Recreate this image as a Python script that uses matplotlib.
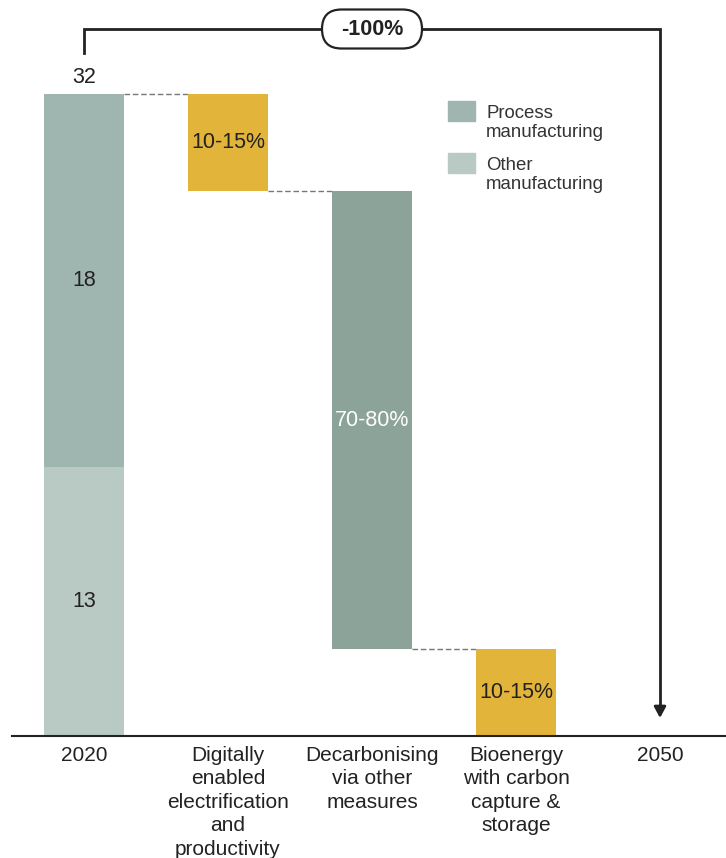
import matplotlib
matplotlib.use("Agg")
import matplotlib.pyplot as plt
from matplotlib.patches import FancyBboxPatch, Rectangle

plt.rcParams["font.family"] = ["Liberation Sans", "DejaVu Sans"]

# ---- data -------------------------------------------------------------
categories = ["2020", "Digitally\nenabled\nelectrification\nand\nproductivity",
              "Decarbonising\nvia other\nmeasures",
              "Bioenergy\nwith carbon\ncapture &\nstorage", "2050"]
other_2020 = 13.3
process_2020 = 18.4
step_reductions = [4.8, 22.6, 4.3]
step_labels = ["10-15%", "70-80%", "10-15%"]
total_change_label = "-100%"
legend_labels = ["Process\nmanufacturing", "Other\nmanufacturing"]

# ---- style ------------------------------------------------------------
c_process = "#9fb5af"
c_other = "#b9c9c3"
c_decarb = "#8ca399"
c_yellow = "#e3b43a"
step_colors = [c_yellow, c_decarb, c_yellow]
step_text_colors = ["#222222", "white", "#222222"]
text_color = "#222222"
line_color = "#222222"
bar_w = 80 / 144
fs_bar = 15.5
fs_tick = 15

W, H = 726, 858
fig = plt.figure(figsize=(W / 100, H / 100), dpi=100)
ax = fig.add_axes([12 / W, (H - 736) / H, (W - 12) / W, 736 / H])

total_2020 = other_2020 + process_2020
px_per_unit = (736 - 94) / total_2020
ax.set_xlim(-0.5, (W - 84) / 144)
ax.set_ylim(0, 736 / px_per_unit)

# 2020 stacked bar
ax.bar(0, other_2020, width=bar_w, color=c_other, zorder=2)
ax.bar(0, process_2020, bottom=other_2020, width=bar_w, color=c_process, zorder=2)
ax.text(0, other_2020 / 2, f"{other_2020:.0f}", ha="center", va="center",
        fontsize=fs_bar, color=text_color)
ax.text(0, other_2020 + process_2020 / 2, f"{process_2020:.0f}", ha="center",
        va="center", fontsize=fs_bar, color=text_color)
ax.text(0, total_2020 + 0.8, f"{total_2020:.0f}", ha="center", va="center",
        fontsize=fs_bar, color=text_color)

# floating reduction steps
level = total_2020
for i, (red, lab, col, tcol) in enumerate(zip(step_reductions, step_labels,
                                              step_colors, step_text_colors)):
    x = i + 1
    bottom = level - red
    ax.bar(x, red, bottom=bottom, width=bar_w, color=col, zorder=2)
    ax.text(x, bottom + red / 2, lab, ha="center", va="center", fontsize=fs_bar,
            color=tcol)
    # dashed connector from previous bar
    ax.plot([x - 1 + bar_w / 2, x - bar_w / 2], [level, level], ls=(0, (4, 2)),
            color="#777777", lw=1.0, zorder=1)
    level = bottom

# baseline
for s in ["left", "right", "top"]:
    ax.spines[s].set_visible(False)
ax.spines["bottom"].set_color(line_color)
ax.spines["bottom"].set_linewidth(1.5)
ax.set_yticks([])
ax.set_xticks([])

# category labels
for i, cat in enumerate(categories):
    ax.text(i, -0.5, cat, ha="center", va="top", fontsize=fs_tick,
            color=text_color, linespacing=1.29)

# bracket with arrow showing total change
y_top = (736 - 29) / px_per_unit
y_start = (736 - 53) / px_per_unit
y_tip = (736 - 718) / px_per_unit
ax.plot([0, 0, 4, 4], [y_start, y_top, y_top, y_tip + 0.5], color=line_color,
        lw=2.0, solid_joinstyle="miter", clip_on=False, zorder=3)
ax.annotate("", xy=(4, y_tip), xytext=(4, y_tip + 0.6),
            arrowprops=dict(arrowstyle="-|>,head_width=0.35,head_length=0.65",
                            color=line_color, lw=2.0, shrinkA=0, shrinkB=0),
            annotation_clip=False)

# pill-shaped label on the bracket
pill_w, pill_h = 1.00, 0.39
cx = (84 + 2 * 144) / 100
cy = (H - 29) / 100
pill = FancyBboxPatch((cx - pill_w / 2, cy - pill_h / 2), pill_w, pill_h,
                      boxstyle=f"round,pad=0,rounding_size={pill_h / 2}",
                      transform=fig.dpi_scale_trans, fc="white", ec=line_color,
                      lw=1.6, zorder=5)
fig.patches.append(pill)
fig.text(cx * 100 / W, cy * 100 / H, total_change_label, ha="center",
         va="center", fontsize=fs_bar, fontweight="bold", color=text_color,
         zorder=6)

# legend
for j, (lab, col) in enumerate(zip(legend_labels, [c_process, c_other])):
    y0 = 101 + 52 * j
    fig.patches.append(Rectangle((448 / W, (H - y0 - 20) / H), 27 / W, 20 / H,
                                 transform=fig.transFigure, color=col))
    fig.text(486 / W, (H - y0 - 4) / H, lab, ha="left", va="top",
             fontsize=13.4, color="#333333", linespacing=1.15)

fig.savefig("out.png", dpi=100)
